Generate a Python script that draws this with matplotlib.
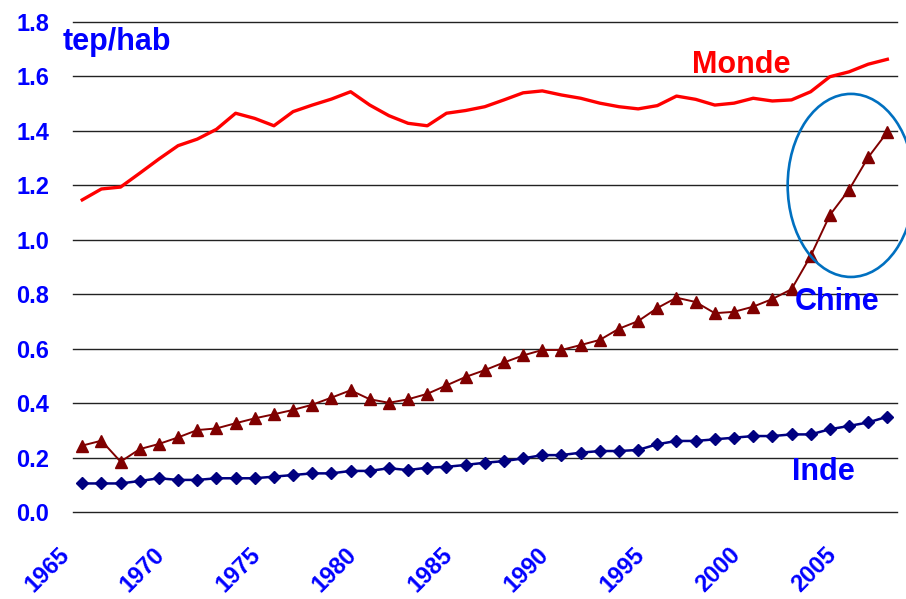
import matplotlib
matplotlib.use("Agg")
import matplotlib.pyplot as plt
from matplotlib.patches import Ellipse
from matplotlib.transforms import ScaledTranslation

plt.rcParams['font.family'] = ['Liberation Sans', 'DejaVu Sans']

# energy consumption per head (tep/hab), 1965-2007
years = list(range(1965, 2008))

monde = [1.147, 1.187, 1.194, 1.245, 1.297, 1.346, 1.370, 1.406, 1.465, 1.446,
         1.419, 1.471, 1.495, 1.517, 1.544, 1.495, 1.456, 1.428, 1.419, 1.465,
         1.475, 1.489, 1.514, 1.540, 1.547, 1.532, 1.520, 1.502, 1.489, 1.481,
         1.493, 1.528, 1.516, 1.495, 1.502, 1.520, 1.510, 1.514, 1.544, 1.599,
         1.617, 1.645, 1.663]

chine = [0.245, 0.263, 0.186, 0.232, 0.251, 0.275, 0.302, 0.308, 0.327, 0.345,
         0.360, 0.376, 0.395, 0.421, 0.448, 0.415, 0.402, 0.415, 0.435, 0.466,
         0.497, 0.522, 0.550, 0.576, 0.596, 0.596, 0.614, 0.633, 0.674, 0.702,
         0.750, 0.788, 0.772, 0.731, 0.736, 0.755, 0.783, 0.819, 0.941, 1.091,
         1.184, 1.303, 1.396]

inde = [0.106, 0.106, 0.106, 0.115, 0.125, 0.119, 0.119, 0.125, 0.125, 0.125,
        0.131, 0.137, 0.143, 0.143, 0.152, 0.152, 0.162, 0.155, 0.164, 0.167,
        0.174, 0.182, 0.188, 0.198, 0.210, 0.210, 0.219, 0.225, 0.225, 0.229,
        0.250, 0.262, 0.262, 0.268, 0.274, 0.280, 0.280, 0.286, 0.286, 0.305,
        0.317, 0.330, 0.351]

xticks = [1965, 1970, 1975, 1980, 1985, 1990, 1995, 2000, 2005]
yticks = [0.0, 0.2, 0.4, 0.6, 0.8, 1.0, 1.2, 1.4, 1.6, 1.8]

BLUE = '#0000FF'

fig = plt.figure(figsize=(9.06, 5.99), dpi=100)
ax = fig.add_axes([0.0802, 0.1447, 0.9098, 0.8186])

ax.plot(years, monde, color='#FF0000', lw=2.4, zorder=3)
ax.plot(years, chine, color='#800000', lw=1.4, marker='^', ms=8.5, zorder=3)
ax.plot(years, inde, color='#000080', lw=1.8, marker='D', ms=6.5, zorder=3)

ax.set_xlim(1964.5, 2007.5)
ax.set_ylim(0, 1.8)
ax.set_yticks(yticks)
ax.set_yticklabels([f"{v:.1f}" for v in yticks])
ax.set_xticks(xticks)
ax.set_xticklabels([str(y) for y in xticks])

ax.grid(axis='y', color='#222222', lw=1.0)
ax.set_axisbelow(True)
for gl in ax.get_ygridlines():
    gl.set_clip_on(False)
for s in ax.spines.values():
    s.set_visible(False)

ax.tick_params(axis='y', length=0, pad=17, labelsize=17, labelcolor=BLUE)
ax.tick_params(axis='x', length=0, pad=31, labelsize=17, labelcolor=BLUE)
for lab in ax.get_yticklabels():
    lab.set_fontweight('bold')
shift = ScaledTranslation(-12 / 100, 0, fig.dpi_scale_trans)
for lab in ax.get_xticklabels():
    lab.set_fontweight('bold')
    lab.set_rotation(45)
    lab.set_ha('right')
    lab.set_va('baseline')
    lab.set_rotation_mode('anchor')
    lab.set_transform(lab.get_transform() + shift)

# labels
ax.text(1963.99, 1.697, 'tep/hab', color=BLUE, fontsize=22, fontweight='bold',
        va='baseline', ha='left', clip_on=False)
ax.text(1996.8, 1.613, 'Monde', color='#FF0000', fontsize=22, fontweight='bold',
        va='baseline', ha='left')
ax.text(2002.16, 0.743, 'Chine', color=BLUE, fontsize=22, fontweight='bold',
        va='baseline', ha='left', zorder=4)
ax.text(2002.05, 0.119, 'Inde', color=BLUE, fontsize=22, fontweight='bold',
        va='baseline', ha='left')

# circle around the recent chinese growth
ax.add_patch(Ellipse((2005.1, 1.2), 6.6, 0.672, fill=False, ec='#0070C0',
                     lw=1.9, clip_on=False, zorder=4))

fig.savefig('out.png', dpi=100)
